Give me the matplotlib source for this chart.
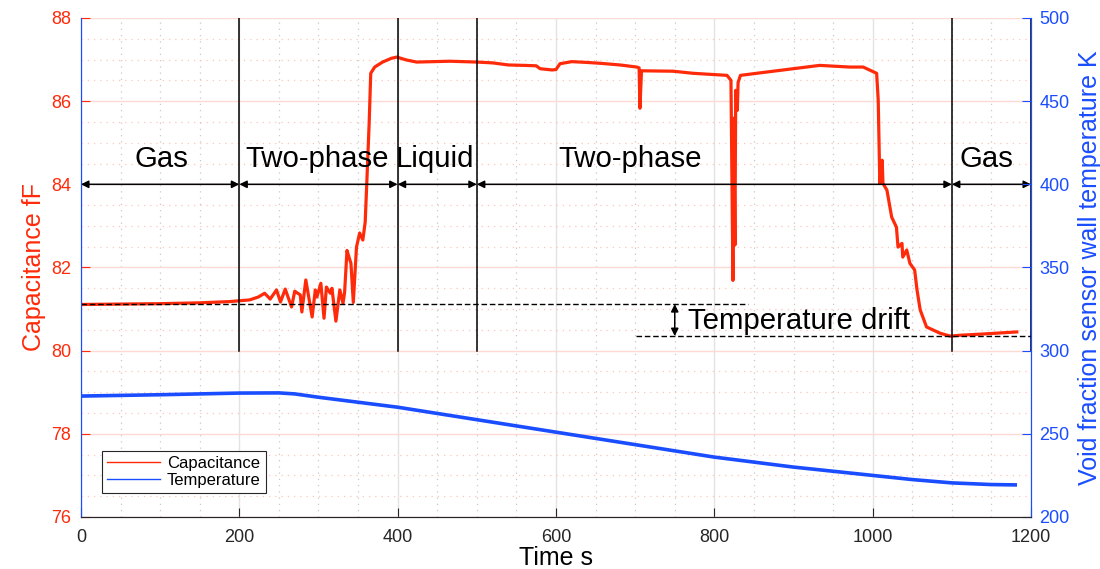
import numpy as np
import matplotlib
matplotlib.use("Agg")
from matplotlib import pyplot as plt
from matplotlib.lines import Line2D
from matplotlib.ticker import MultipleLocator

plt.rcParams["font.family"] = ["Liberation Sans", "DejaVu Sans"]

# capacitance trace (s, fF)
cap_t = [0, 50, 100, 150, 188, 213, 224, 232, 239, 247, 252, 258, 266, 270, 277, 279,
         284, 292, 296, 298, 303, 307, 310, 315, 317, 322, 327, 331, 333, 336, 339, 341,
         344, 348, 352, 356, 359, 361, 364, 366, 371, 381, 392, 399, 411, 424, 466, 500,
         520, 540, 560, 575, 580, 595, 600, 605, 620, 640, 656, 681, 702, 705, 706, 708,
         748, 773, 816, 821, 823.5, 824.5, 826, 827, 829, 830, 833, 866, 908, 933, 971,
         988, 1005, 1007, 1009, 1012, 1013, 1018, 1024, 1030, 1032, 1037, 1038, 1043,
         1047, 1053, 1056, 1060, 1068, 1085, 1098, 1110, 1139, 1182]
cap_v = [81.11, 81.12, 81.13, 81.15, 81.18, 81.22, 81.29, 81.38, 81.24, 81.46, 81.17, 81.48,
         81.05, 81.43, 81.34, 80.93, 81.70, 80.81, 81.46, 81.29, 81.62, 80.78, 81.53, 81.38,
         81.50, 80.71, 81.46, 81.14, 81.40, 82.41, 82.22, 82.10, 81.16, 82.49, 82.83, 82.66,
         83.09, 84.02, 85.46, 86.67, 86.82, 86.94, 87.03, 87.06, 86.99, 86.94, 86.96, 86.94,
         86.92, 86.87, 86.86, 86.85, 86.78, 86.75, 86.76, 86.90, 86.95, 86.93, 86.91, 86.87,
         86.82, 86.80, 85.83, 86.73, 86.72, 86.67, 86.62, 86.50, 81.69, 85.59, 82.54, 86.26,
         85.78, 86.45, 86.62, 86.70, 86.80, 86.86, 86.82, 86.82, 86.67, 86.02, 84.02, 84.58,
         84.02, 83.86, 83.21, 82.97, 82.49, 82.58, 82.25, 82.42, 82.10, 81.94, 81.46, 80.98,
         80.57, 80.42, 80.35, 80.37, 80.40, 80.45]

# wall temperature (s, K)
temp_t = [0, 100, 200, 250, 270, 300, 400, 500, 600, 700, 800, 900, 1000, 1050, 1100, 1150, 1180]
temp_v = [272.7, 273.5, 274.5, 274.6, 274.0, 272.0, 266.0, 258.5, 251.0, 243.5, 236.0, 230.0,
          225.0, 222.5, 220.5, 219.5, 219.3]

# flow regimes
bounds = [0, 200, 400, 500, 1100, 1200]
regime_names = ["Gas", "Two-phase", "Liquid", "Two-phase", "Gas"]
regime_pos = [102, 298, 447, 693, 1144]

red = "#ff2a0a"
blue = "#1a4dff"

fig = plt.figure(figsize=(11, 5.69), dpi=100)
ax = fig.add_axes([0.0736, 0.0914, 0.8637, 0.877])
ax2 = ax.twinx()

ax.set_xlim(0, 1200)
ax.set_ylim(76, 88)
ax2.set_ylim(200, 500)

# grid
ax.xaxis.set_minor_locator(MultipleLocator(50))
ax.yaxis.set_minor_locator(MultipleLocator(0.5))
ax.grid(True, which="major", axis="x", color="#e3e3e3", lw=1)
ax.grid(True, which="major", axis="y", color="#fddad5", lw=1)
ax.grid(True, which="minor", axis="x", color="#c8c8c8", lw=0.9, ls=(0, (1, 4)))
ax.grid(True, which="minor", axis="y", color="#ffc4bb", lw=0.9, ls=(0, (1, 4)))
ax.set_axisbelow(True)

ax.plot(cap_t, cap_v, color=red, lw=2.3, zorder=3)
ax2.plot(temp_t, temp_v, color=blue, lw=2.6)

# regime separators and arrows
for b in bounds:
    ax.plot([b, b], [80, 88], color="black", lw=1.1, zorder=4)
for i in range(len(regime_names)):
    ax.annotate("", xy=(bounds[i + 1], 84), xytext=(bounds[i], 84),
                arrowprops=dict(arrowstyle="<|-|>", color="black", lw=1.1,
                                mutation_scale=11, shrinkA=0, shrinkB=0), zorder=4)
    ax.text(regime_pos[i], 84.6, regime_names[i], fontsize=21.2, ha="center", va="center")

# temperature drift marker
ax.plot([0, 842], [81.12, 81.12], color="black", lw=1, ls=(0, (4, 2)), zorder=4)
ax.plot([701, 1200], [80.35, 80.35], color="black", lw=1, ls=(0, (4, 2)), zorder=4)
ax.annotate("", xy=(750, 80.35), xytext=(750, 81.12),
            arrowprops=dict(arrowstyle="<|-|>", color="black", lw=1.1,
                            mutation_scale=11, shrinkA=0, shrinkB=0), zorder=4)
ax.text(767, 80.71, "Temperature drift", fontsize=21.2, ha="left", va="center")

# axes styling
ax.set_xticks(range(0, 1201, 200))
ax.set_yticks(range(76, 89, 2))
ax2.set_yticks(range(200, 501, 50))
ax.tick_params(axis="x", direction="in", length=6.5, colors="#262626", labelsize=13, pad=9)
ax.tick_params(axis="y", direction="in", length=6.5, colors=red, labelsize=13, pad=7)
ax.tick_params(which="minor", length=0)
ax2.tick_params(axis="y", direction="in", length=6.5, colors=blue, labelsize=13, pad=6)
for a in (ax, ax2):
    a.spines["top"].set_visible(False)
    a.spines["left"].set_color(blue)
    a.spines["right"].set_color(blue)
    a.spines["bottom"].set_color("#262626")

ax.set_xlabel("Time s", fontsize=18, color="black", labelpad=0)
ax.set_ylabel("Capacitance fF", fontsize=18, color=red, labelpad=4)
ax2.set_ylabel("Void fraction sensor wall temperature K", fontsize=18, color=blue, labelpad=6)

handles = [Line2D([], [], color=red, lw=1), Line2D([], [], color=blue, lw=1)]
leg = ax2.legend(handles, ["Capacitance", "Temperature"], loc="lower left",
                 bbox_to_anchor=(0.022, 0.048), borderaxespad=0, fontsize=12,
                 fancybox=False, edgecolor="#262626", framealpha=1, handlelength=3.2,
                 borderpad=0.3, labelspacing=0.15, handletextpad=0.4)
leg.get_frame().set_linewidth(0.8)

fig.savefig("out.png", dpi=100)
